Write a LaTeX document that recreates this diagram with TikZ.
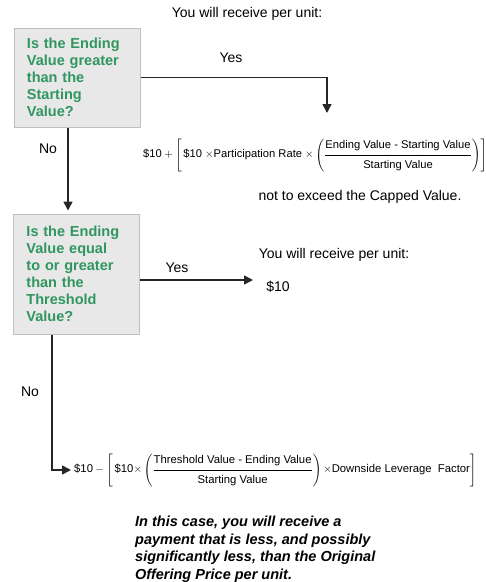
\documentclass[tikz,border=0pt]{standalone}
\usepackage{fontspec}
\setmainfont{Liberation Sans}
\usepackage{amsmath}
\usetikzlibrary{arrows.meta}

\definecolor{qgreen}{RGB}{48,150,96}
\definecolor{qfill}{RGB}{232,232,232}
\definecolor{qedge}{RGB}{192,192,192}

\tikzset{
  qbox/.style={draw=qedge, line width=1pt, fill=qfill, text=qgreen,
    font=\fontsize{14.5}{17}\selectfont\bfseries, align=left,
    text width=100pt, inner xsep=13pt, inner ysep=0pt},
  flow/.style={draw=black!85, line width=1.6pt, -{Triangle[length=9pt,width=9pt]}},
  txt/.style={font=\fontsize{14}{17}\selectfont, inner sep=0pt},
  formula/.style={inner sep=0pt, anchor=west},
  note/.style={font=\fontsize{14.5}{17.5}\selectfont\bfseries\itshape,
    align=left, inner sep=0pt, anchor=north west}
}

\newcommand{\numstrut}{\rule[-5pt]{0pt}{15pt}}
\newcommand{\denstrut}{\rule[-3pt]{0pt}{15pt}}
\newcommand{\tm}{{\times}}

\begin{document}
\begin{tikzpicture}[x=1pt,y=-1pt]
  \useasboundingbox (0,0) rectangle (486,582);

  % first question
  \node[txt] (recv1) at (247,14) {You will receive per unit:};
  \node[qbox, minimum height=99pt] (q1) at (77,77.5)
    {Is the Ending\\Value greater\\than the\\Starting\\Value?};
  \node[formula, font=\fontsize{11.2}{13}\selectfont] (f1) at (143,155)
    {$\mbox{\$10} + \left[\,\mbox{\$10}\;\tm\mbox{Participation Rate}\;\tm
      \left(\dfrac{\numstrut\mbox{Ending Value - Starting Value}}
      {\denstrut\mbox{Starting Value}}\right)\right]$};
  \node[txt] (cap) at (360,197) {not to exceed the Capped Value.};

  % second question
  \node[qbox, minimum height=120pt] (q2) at (76.5,274)
    {Is the Ending\\Value equal\\to or greater\\than the\\Threshold\\Value?};
  \node[txt] (recv2) at (334,255) {You will receive per unit:};
  \node[txt] (pay2) at (278,287) {\$10};

  % downside
  \node[formula, font=\fontsize{11.3}{13}\selectfont] (f2) at (74,470)
    {$\mbox{\$10} - \left[\,\mbox{\$10}\tm
      \left(\dfrac{\numstrut\mbox{Threshold Value - Ending Value}}
      {\denstrut\mbox{Starting Value}}\right)\tm
      \mbox{Downside Leverage\ \ Factor}\right]$};
  \node[note] (warn) at (135,516)
    {In this case, you will receive a\\payment that is less, and possibly\\
     significantly less, than the Original\\Offering Price per unit.};

  % connectors
  \coordinate (t1) at (327,113);
  \coordinate (n1) at (68,0);
  \coordinate (t2) at (253,280);
  \coordinate (b2) at (52,470);
  \coordinate (t3) at (71,470);

  \draw[flow] (q1.east) -| (t1);
  \node[txt] (yes1) at (231,58) {Yes};
  \draw[flow, shorten >=3pt] (q1.south -| n1) -- (q2.north -| n1);
  \node[txt] (no1) at (48,149) {No};
  \draw[flow] (q2.east |- t2) -- (t2);
  \node[txt] (yes2) at (177,268) {Yes};
  \draw[flow] (q2.south -| b2) |- (t3);
  \node[txt] (no2) at (30,392) {No};
\end{tikzpicture}
\end{document}
